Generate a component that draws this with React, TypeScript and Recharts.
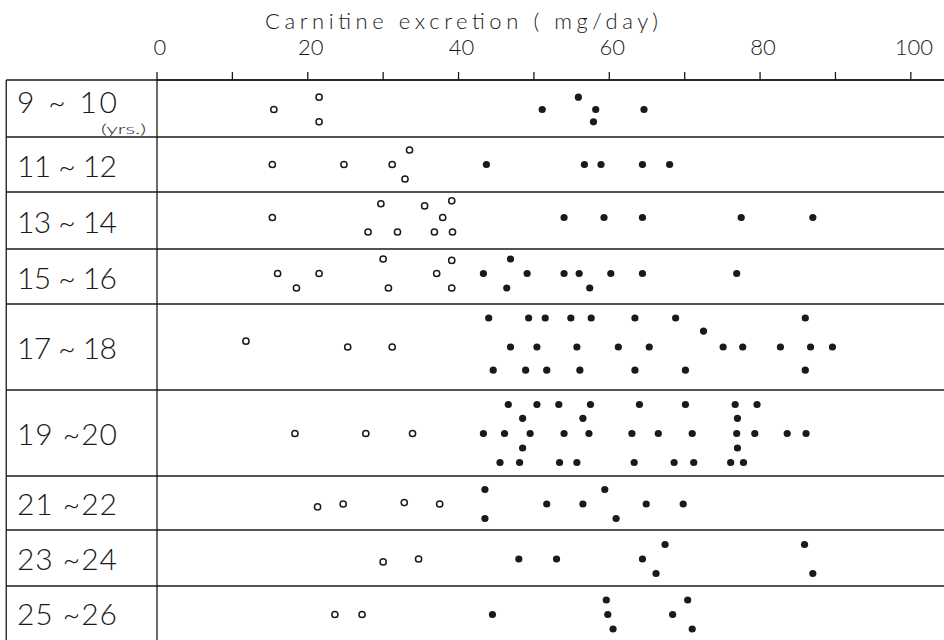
import React from "react";
import { ScatterChart, Scatter, XAxis, YAxis, ReferenceLine } from "recharts";

// age groups, top to bottom
const ageGroups = ["9 ~ 10", "11 ~ 12", "13 ~ 14", "15 ~ 16", "17 ~ 18", "19 ~20", "21 ~22", "23 ~24", "25 ~26"];
// relative height of each age band (the 17-20 bands are taller)
const rowHeights = [57, 55, 57, 55, 86, 86, 54, 56, 54];
// small vertical shift of the dot cluster inside each band
const laneCenters = [1, 0, -3, -3, 0, 0.5, 1, 1, 1.5];
const laneStep = 14.5;

const xTicks = [0, 10, 20, 30, 40, 50, 60, 70, 80, 90, 100];
const xLabels = [0, 20, 40, 60, 80, 100];

// [mg/day, lane]  lane: 0 = middle of band, negative = higher
const openDots: number[][][] = [
  [[15.5, 0], [21.5, -0.85], [21.5, 0.85]],
  [[15.3, 0], [24.8, 0], [31.2, 0], [33.5, -1], [32.9, 1]],
  [[15.3, 0], [29.7, -0.95], [35.5, -0.8], [39.1, -1.15], [37.9, 0], [28.0, 1], [31.9, 1], [36.8, 1], [39.2, 1]],
  [[16.0, 0], [21.5, 0], [18.5, 1], [30.0, -1], [39.1, -0.9], [37.1, 0], [30.7, 1], [39.1, 1]],
  [[11.8, -0.4], [25.3, 0], [31.2, 0]],
  [[18.3, 0], [27.7, 0], [33.9, 0]],
  [[21.3, 0.2], [24.7, 0], [32.8, -0.1], [37.5, 0]],
  [[30.0, 0.2], [34.7, 0]],
  [[23.6, 0], [27.2, 0]],
];

const filledDots: number[][][] = [
  [[51.1, 0], [55.9, -0.85], [58.2, 0], [57.9, 0.85], [64.6, 0]],
  [[43.7, 0], [56.7, 0], [58.9, 0], [64.4, 0], [68.0, 0]],
  [[54.0, 0], [59.3, 0], [64.4, 0], [77.5, 0], [87.0, 0]],
  [[43.3, 0], [46.9, -1], [49.1, 0], [54.0, 0], [56.0, 0], [60.2, 0], [64.4, 0], [76.9, 0], [46.4, 1], [57.4, 1]],
  [
    [44.0, -2], [49.3, -2], [51.5, -2], [54.9, -2], [57.6, -2], [63.4, -2], [68.8, -2], [86.0, -2],
    [72.5, -1.1],
    [46.9, 0], [50.4, 0], [55.7, 0], [61.2, 0], [65.3, 0], [75.1, 0], [77.7, 0], [82.7, 0], [86.7, 0], [89.6, 0],
    [44.6, 1.6], [48.9, 1.6], [51.7, 1.6], [56.1, 1.6], [63.4, 1.6], [70.1, 1.6], [86.0, 1.6],
  ],
  [
    [46.6, -2], [50.4, -2], [53.3, -2], [57.5, -2], [64.0, -2], [70.1, -2], [76.7, -2], [79.6, -2],
    [48.5, -1.05], [56.5, -1.05], [77.0, -1.05],
    [43.3, 0], [46.1, 0], [49.5, 0], [54.0, 0], [57.3, 0], [63.0, 0], [66.5, 0], [71.0, 0], [76.9, 0], [79.3, 0], [83.6, 0], [86.1, 0],
    [48.5, 1], [77.0, 1],
    [45.5, 2], [48.1, 2], [53.4, 2], [55.7, 2], [63.3, 2], [68.6, 2], [71.2, 2], [76.1, 2], [77.8, 2],
  ],
  [[43.5, -1], [43.5, 1], [51.7, 0], [56.5, 0], [59.4, -1], [64.9, 0], [69.8, 0], [60.9, 1]],
  [[48.0, 0], [53.0, 0], [64.4, 0], [67.4, -1], [66.2, 1], [85.9, -1], [87.0, 1]],
  [[44.5, 0], [59.6, -1], [59.8, 0], [60.5, 1], [70.4, -1], [68.4, 0], [71.0, 1]],
];

const rowTops = rowHeights.map((_, i) => rowHeights.slice(0, i).reduce((a, b) => a + b, 0));
const totalHeight = rowHeights.reduce((a, b) => a + b, 0);
const rowMids = rowTops.map((t, i) => t + rowHeights[i] / 2);

const toPoints = (groups: number[][][]) =>
  groups.flatMap((row, i) =>
    row.map(([mg, lane]) => ({ x: mg, y: rowMids[i] + laneCenters[i] + lane * laneStep }))
  );

const openData = toPoints(openDots);
const filledData = toPoints(filledDots);

const FONT = "Lato, 'DejaVu Sans', sans-serif";
const INK = "#1a1a1a";
const X_MAX = 104.4;
const X_LEFT = -20.0; // left border of the label box

const XTick = (props: any) => {
  const { x, y, payload } = props;
  if (!xLabels.includes(payload.value)) return null;
  return (
    <text x={x + 3} y={y - 15} textAnchor="middle" fontFamily={FONT} fontWeight={300} fontSize={22} fill={INK}>
      {payload.value}
    </text>
  );
};

const YTick = (props: any) => {
  const { y, index } = props;
  const first = index === 0;
  return (
    <g>
      <text
        x={17}
        y={y + (first ? 4 : 12)}
        fontFamily={FONT}
        fontWeight={300}
        fontSize={30}
        fill={INK}
        textLength={100}
        lengthAdjust="spacing"
      >
        {ageGroups[index]}
      </text>
      {first && (
        <text
          x={101}
          y={y + 25}
          fontFamily={FONT}
          fontWeight={300}
          fontSize={14}
          fill={INK}
          textLength={45}
          lengthAdjust="spacingAndGlyphs"
        >
          (yrs.)
        </text>
      )}
    </g>
  );
};

const Title = (props: any) => {
  const { viewBox } = props;
  return (
    <text
      x={viewBox.x + 108}
      y={viewBox.y + 9}
      fontFamily={FONT}
      fontWeight={300}
      fontSize={22}
      fill={INK}
      textLength={393}
      lengthAdjust="spacing"
    >
      Carnitine excretion ( mg/day)
    </text>
  );
};

const Open = (p: any) => <circle cx={p.cx} cy={p.cy} r={3.1} fill="#fff" stroke={INK} strokeWidth={1.5} />;
const Filled = (p: any) => <circle cx={p.cx} cy={p.cy} r={3.6} fill={INK} />;

export default function App() {
  return (
    <div style={{ position: "absolute", left: 0, top: 0, width: 944, height: 640, background: "#fff" }}>
      <ScatterChart width={944} height={640} margin={{ top: 20, right: 0, bottom: 0, left: 0 }}>
        <XAxis
          type="number"
          dataKey="x"
          orientation="top"
          domain={[0, X_MAX]}
          ticks={xTicks}
          tickSize={8}
          height={60}
          allowDataOverflow
          stroke={INK}
          strokeWidth={1.3}
          tick={<XTick />}
          label={{ content: <Title /> }}
        />
        <YAxis
          type="number"
          dataKey="y"
          domain={[0, totalHeight]}
          reversed
          width={157}
          ticks={rowMids}
          interval={0}
          tickLine={false}
          stroke={INK}
          strokeWidth={1.3}
          tick={<YTick />}
        />
        {rowTops.map((t) => (
          <ReferenceLine
            key={t}
            segment={[{ x: X_LEFT, y: t }, { x: X_MAX, y: t }]}
            ifOverflow="visible"
            stroke={INK}
            strokeWidth={1.3}
          />
        ))}
        <ReferenceLine
          segment={[{ x: X_LEFT, y: 0 }, { x: X_LEFT, y: totalHeight }]}
          ifOverflow="visible"
          stroke={INK}
          strokeWidth={1.3}
        />
        <Scatter data={openData} shape={<Open />} isAnimationActive={false} />
        <Scatter data={filledData} shape={<Filled />} isAnimationActive={false} />
      </ScatterChart>
    </div>
  );
}
